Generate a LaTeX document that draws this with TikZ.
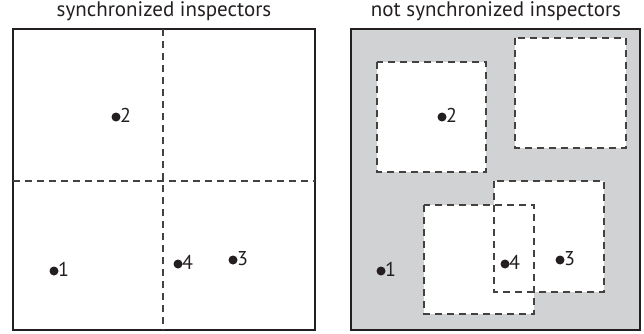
\documentclass[tikz,border=0pt]{standalone}
\usepackage{fontspec}
\setmainfont{PT Sans}[Numbers=Lining]
\definecolor{ink}{HTML}{231F20}
\definecolor{panelgray}{HTML}{D1D2D4}
\tikzset{
  frame/.style={draw=ink, line width=1.2pt},
  grid/.style={draw=ink!85, line width=1.1pt, dash pattern=on 7pt off 5pt},
  zone/.style={fill=white},
  zoneedge/.style={draw=ink!85, line width=1.1pt, dash pattern=on 7pt off 5pt},
  dot/.style={circle, fill=ink, inner sep=0pt, minimum size=9pt},
  lbl/.style={anchor=west, inner sep=0pt, xshift=-0.8pt, font=\fontsize{20}{22}\selectfont, text=ink},
  title/.style={font=\fontsize{21}{24}\selectfont, text=ink}
}
\begin{document}
\begin{tikzpicture}[x=1pt,y=-1pt]
\useasboundingbox (0,0) rectangle (644,334);
% titles
\node[title] (t1) at (164,11) {synchronized inspectors};
\node[title] (t2) at (496,11) {not synchronized inspectors};
% left panel
\draw[frame] (13,29) rectangle (315,330);
\draw[grid] (163,29) -- (163,330);
\draw[grid] (13,181) -- (315,181);
% right panel
\fill[panelgray] (351,29) rectangle (640,330);
\fill[zone] (377,62) rectangle (486,172);
\fill[zone] (515,38) rectangle (626,148);
\fill[zone] (494,181) rectangle (604,292);
\fill[zone] (424,205) rectangle (534,314);
\draw[zoneedge] (377,62) rectangle (486,172);
\draw[zoneedge] (515,38) rectangle (626,148);
\draw[zoneedge] (494,181) rectangle (604,292);
\draw[zoneedge] (424,205) rectangle (534,314);
\draw[frame] (351,29) rectangle (640,330);
% points left
\node[dot] (a2) at (116,117) {};
\node[lbl] (la2) at ([yshift=1.5pt]a2.east) {2};
\node[dot] (a1) at (54,271) {};
\node[lbl] (la1) at ([yshift=1.5pt]a1.east) {1};
\node[dot] (a4) at (178,264) {};
\node[lbl] (la4) at ([yshift=1.5pt]a4.east) {4};
\node[dot] (a3) at (233,260) {};
\node[lbl] (la3) at ([yshift=1.5pt]a3.east) {3};
% points right
\node[dot] (b2) at (442,117) {};
\node[lbl] (lb2) at ([yshift=1.5pt]b2.east) {2};
\node[dot] (b1) at (381,271) {};
\node[lbl] (lb1) at ([yshift=1.5pt]b1.east) {1};
\node[dot] (b4) at (505,264) {};
\node[lbl] (lb4) at ([yshift=1.5pt]b4.east) {4};
\node[dot] (b3) at (560,260) {};
\node[lbl] (lb3) at ([yshift=1.5pt]b3.east) {3};
\end{tikzpicture}
\end{document}
